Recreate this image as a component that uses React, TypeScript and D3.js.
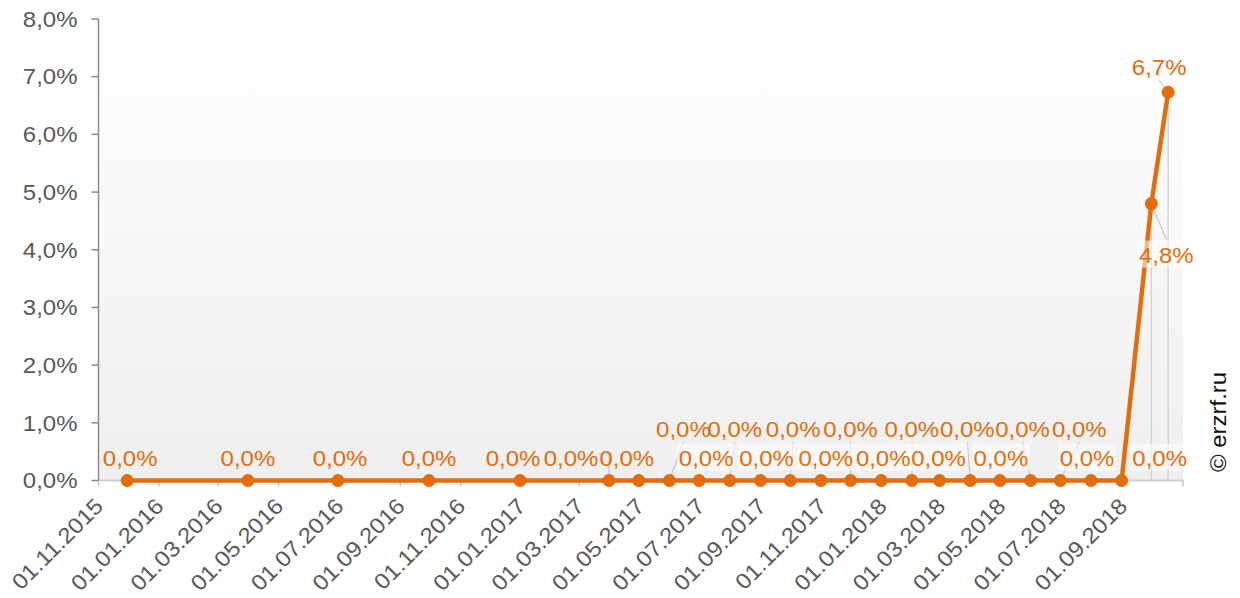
import React from "react";
import * as d3 from "d3";

// ---- data ----
const pointDates = [
  "2015-11-30", "2016-03-31", "2016-06-30", "2016-09-30", "2016-12-31",
  "2017-03-31", "2017-04-30", "2017-05-31", "2017-06-30", "2017-07-31",
  "2017-08-31", "2017-09-30", "2017-10-31", "2017-11-30", "2017-12-31",
  "2018-01-31", "2018-02-28", "2018-03-31", "2018-04-30", "2018-05-31",
  "2018-06-30", "2018-07-31", "2018-08-31", "2018-09-30", "2018-10-17",
];
const pointValues = [
  0, 0, 0, 0, 0,
  0, 0, 0, 0, 0,
  0, 0, 0, 0, 0,
  0, 0, 0, 0, 0,
  0, 0, 0, 0.048, 0.0673,
];
const xTickLabels = [
  "01.11.2015", "01.01.2016", "01.03.2016", "01.05.2016", "01.07.2016",
  "01.09.2016", "01.11.2016", "01.01.2017", "01.03.2017", "01.05.2017",
  "01.07.2017", "01.09.2017", "01.11.2017", "01.01.2018", "01.03.2018",
  "01.05.2018", "01.07.2018", "01.09.2018",
];
const xDomain = ["2015-11-01", "2018-11-01"];
const yTicks = [0, 0.01, 0.02, 0.03, 0.04, 0.05, 0.06, 0.07, 0.08];

// label placement (0 = above, 1 = upper row with leader, 2 = lower row with box, 3 = hook leader, 4/5 = special)
const labelRow = [0, 0, 0, 0, 0, 3, 0, 1, 2, 1, 2, 1, 2, 1, 2, 1, 2, 1, 2, 1, 1, 2, 2, 4, 5];
const labelDx = [3, 0, 2, 0, -7, -38, -12, 14, 7, 5, 6, 3, 5, 0, 2, 0, -1, -3, 1, -8, 19, -4, 38, 15, -9];

const W = 1240;
const H = 598;
const ORANGE = "#E46C0A";
const FONT = "'Liberation Sans', Arial, sans-serif";
const SX = 1.09;
const FS = 22;

export default function App() {
  const parse = d3.utcParse("%Y-%m-%d");
  const parseTick = d3.utcParse("%d.%m.%Y");
  const x = d3.scaleUtc().domain(xDomain.map((d) => parse(d) as Date)).range([98.5, 1183]);
  const y = d3.scaleLinear().domain([0, 0.08]).range([480.5, 19]);
  const pts = pointDates.map((d, i) => ({ x: x(parse(d) as Date), y: y(pointValues[i]), v: pointValues[i] }));
  const line = d3.line<{ x: number; y: number }>().x((d) => d.x).y((d) => d.y);
  const fmt = (v: number) => d3.format(".1f")(v * 100).replace(".", ",") + "%";
  const allTicks = x.ticks(d3.utcMonth.every(2) as any);
  const left = x.range()[0];
  const right = x.range()[1];
  const top = y.range()[1];
  const bottom = y.range()[0];

  const labels = pts.map((p, i) => {
    const row = labelRow[i];
    const cx = p.x + labelDx[i];
    let base = p.y - 15;
    if (row === 1) base = p.y - 43.5;
    if (row === 4) base = p.y + 59;
    if (row === 5) base = p.y - 17;
    return { cx, base, row, p, text: fmt(p.v) };
  });

  return (
    <svg width={W} height={H} style={{ position: "absolute", left: 0, top: 0, background: "#fff" }} fontFamily={FONT}>
      <defs>
        <linearGradient id="bg" x1="0" y1="0" x2="0" y2="1">
          <stop offset="0%" stopColor="#ffffff" />
          <stop offset="100%" stopColor="#efefef" />
        </linearGradient>
      </defs>
      <rect x={left} y={top} width={right - left} height={bottom - top} fill="url(#bg)" />

      {/* drop lines for last points */}
      {pts.slice(-2).map((p, i) => (
        <line key={"dl" + i} x1={p.x} x2={p.x} y1={p.y} y2={bottom} stroke="#d4d4d4" strokeWidth={1.5} />
      ))}

      {/* x axis */}
      <line x1={left} x2={right} y1={bottom} y2={bottom} stroke="#cfcfcf" strokeWidth={2} />
      {allTicks.map((t, i) => (
        <line key={"xt" + i} x1={x(t)} x2={x(t)} y1={bottom} y2={bottom + 6} stroke="#c6c6c6" strokeWidth={1.5} />
      ))}
      {xTickLabels.map((lab, i) => {
        const tx = x(parseTick(lab) as Date);
        return (
          <text
            key={"xl" + i}
            transform={`translate(${tx + 6},${bottom + 27}) rotate(-45) scale(${SX},1)`}
            textAnchor="end"
            fontSize={FS}
            fill="#595959"
          >
            {lab}
          </text>
        );
      })}

      {/* y axis */}
      <line x1={left} x2={left} y1={top} y2={bottom} stroke="#8c8c8c" strokeWidth={1.5} />
      {yTicks.map((t, i) => (
        <g key={"yt" + i}>
          <line x1={left - 7} x2={left} y1={y(t)} y2={y(t)} stroke="#8c8c8c" strokeWidth={1.5} />
          <text transform={`translate(${left - 21},${y(t) + 7.8}) scale(${SX},1)`} textAnchor="end" fontSize={FS} fill="#595959">
            {fmt(t)}
          </text>
        </g>
      ))}

      {/* leader lines */}
      {labels.map((l, i) => {
        const p = l.p;
        if (l.row === 1) return <line key={"ll" + i} x1={p.x} y1={p.y} x2={l.cx} y2={l.base + 5} stroke="#c8c8c8" strokeWidth={1.2} />;
        if (l.row === 3)
          return (
            <polyline key={"ll" + i} points={`${p.x},${p.y} ${p.x},${l.base - 12} ${l.cx + 27},${l.base - 12}`} fill="none" stroke="#c8c8c8" strokeWidth={1.2} />
          );
        if (l.row === 4) return <line key={"ll" + i} x1={p.x} y1={p.y} x2={l.cx} y2={l.base - 23} stroke="#c8c8c8" strokeWidth={1.2} />;
        if (l.row === 5) return <line key={"ll" + i} x1={p.x} y1={p.y} x2={l.cx} y2={l.base + 5} stroke="#c8c8c8" strokeWidth={1.2} />;
        return null;
      })}

      {/* line + markers */}
      <path d={line(pts) || ""} fill="none" stroke={ORANGE} strokeWidth={4.5} strokeLinejoin="round" />
      {pts.map((p, i) => (
        <circle key={"m" + i} cx={p.x} cy={p.y} r={6.5} fill={ORANGE} />
      ))}

      {/* label boxes */}
      {labels.map((l, i) =>
        l.row === 2 || l.row === 4 ? (
          <rect key={"lb" + i} x={l.cx - 29} y={l.base - 22} width={58} height={27} fill="#ffffff" fillOpacity={0.55} />
        ) : null
      )}

      {/* labels */}
      {labels.map((l, i) => (
        <text key={"lt" + i} transform={`translate(${l.cx},${l.base}) scale(${SX},1)`} textAnchor="middle" fontSize={FS} fill={ORANGE}>
          {l.text}
        </text>
      ))}

      {/* watermark */}
      <text transform={`translate(1226,422) rotate(-90) scale(${SX},1)`} textAnchor="middle" fontSize={FS} fill="#111">
        © erzrf.ru
      </text>
    </svg>
  );
}
